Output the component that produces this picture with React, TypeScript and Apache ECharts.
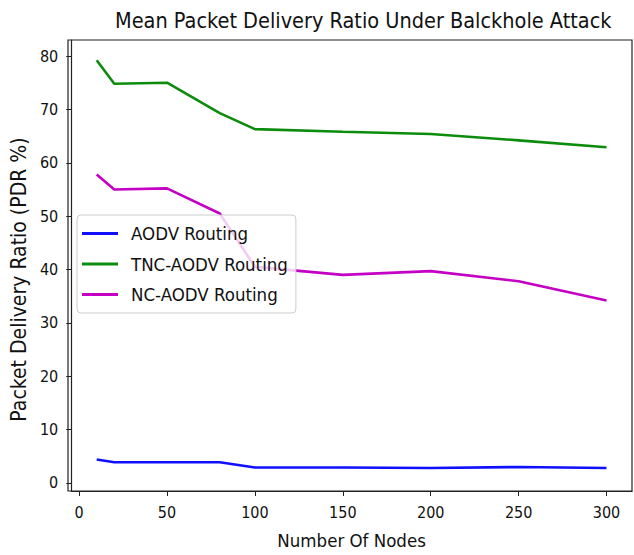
import React, { useEffect, useRef } from "react";
import * as echarts from "echarts";

const nodes = [10, 20, 50, 80, 100, 150, 200, 250, 300];
const aodv = [4.4, 3.9, 3.9, 3.9, 2.9, 2.9, 2.8, 3.0, 2.8];
const tncAodv = [79.2, 74.8, 75.0, 69.3, 66.3, 65.8, 65.4, 64.2, 62.9];
const ncAodv = [57.8, 55.0, 55.2, 50.5, 40.5, 39.0, 39.7, 37.8, 34.2];
const xTicks = [0, 50, 100, 150, 200, 250, 300];
const yTicks = [0, 10, 20, 30, 40, 50, 60, 70, 80];

const FONT = "'DejaVu Sans Condensed', 'DejaVu Sans', sans-serif";

export default function App() {
  const ref = useRef<HTMLDivElement>(null);
  useEffect(() => {
    if (!ref.current) return;
    const chart = echarts.init(ref.current, null, { renderer: "svg" });
    const mk = (name: string, vals: number[], color: string) => ({
      name,
      type: "line",
      data: nodes.map((n, i) => [n, vals[i]]),
      showSymbol: false,
      symbol: "none",
      lineStyle: { color, width: 2.6 },
      itemStyle: { color },
    });
    chart.setOption({
      animation: false,
      backgroundColor: "#ffffff",
      textStyle: { fontFamily: FONT },
      title: {
        text: "Mean Packet Delivery Ratio Under Balckhole Attack",
        left: 110,
        top: 4,
        textStyle: { fontFamily: FONT, fontSize: 21.5, fontWeight: "normal", color: "#111" },
      },
      grid: { left: 68, right: 2, top: 40, bottom: 64, containLabel: false, show: false },
      legend: {
        orient: "vertical",
        left: 77,
        top: 215,
        padding: [8.5, 8, 8.5, 5],
        itemGap: 10.5,
        itemWidth: 36,
        itemHeight: 3,
        icon: "rect",
        backgroundColor: "rgba(255,255,255,0.8)",
        borderColor: "#cccccc",
        borderWidth: 1,
        borderRadius: 4,
        textStyle: { fontFamily: FONT, fontSize: 18.5, color: "#111", lineHeight: 20, padding: [0, 0, 0, 8] },
        data: ["AODV Routing", "TNC-AODV Routing", "NC-AODV Routing"],
      },
      xAxis: {
        type: "value",
        min: -4.5,
        max: 314.5,
        name: "Number Of Nodes",
        nameLocation: "middle",
        nameGap: 40,
        nameTextStyle: { fontFamily: FONT, fontSize: 18.5, color: "#111" },
        splitLine: { show: false },
        axisLine: { show: true, onZero: false, lineStyle: { color: "#222", width: 1.2 } },
        axisTick: { show: true, length: 5, customValues: xTicks, lineStyle: { color: "#222" } },
        axisLabel: { customValues: xTicks, fontFamily: FONT, fontSize: 16, color: "#111", margin: 13 },
      },
      yAxis: {
        type: "value",
        min: -1.5,
        max: 83,
        name: "Packet Delivery Ratio (PDR %)",
        nameLocation: "middle",
        nameGap: 42,
        nameTextStyle: { fontFamily: FONT, fontSize: 21, color: "#111", padding: [0, 28, 0, 0] },
        splitLine: { show: false },
        axisLine: { show: true, onZero: false, lineStyle: { color: "#222", width: 1.2 } },
        axisTick: { show: true, length: 5, customValues: yTicks, lineStyle: { color: "#222" } },
        axisLabel: { customValues: yTicks, fontFamily: FONT, fontSize: 16, color: "#111", margin: 13 },
      },
      graphic: [
        {
          type: "rect",
          shape: { x: 68, y: 40, width: 564, height: 451 },
          style: { fill: "none", stroke: "#222", lineWidth: 1.2 },
          silent: true,
          z: 10,
        },
      ],
      series: [
        mk("AODV Routing", aodv, "#1010ff"),
        mk("TNC-AODV Routing", tncAodv, "#0c8c0c"),
        mk("NC-AODV Routing", ncAodv, "#c400c4"),
      ],
    });
    return () => chart.dispose();
  }, []);
  return <div ref={ref} style={{ width: 634, height: 555, position: "absolute", left: 0, top: 0 }} />;
}
